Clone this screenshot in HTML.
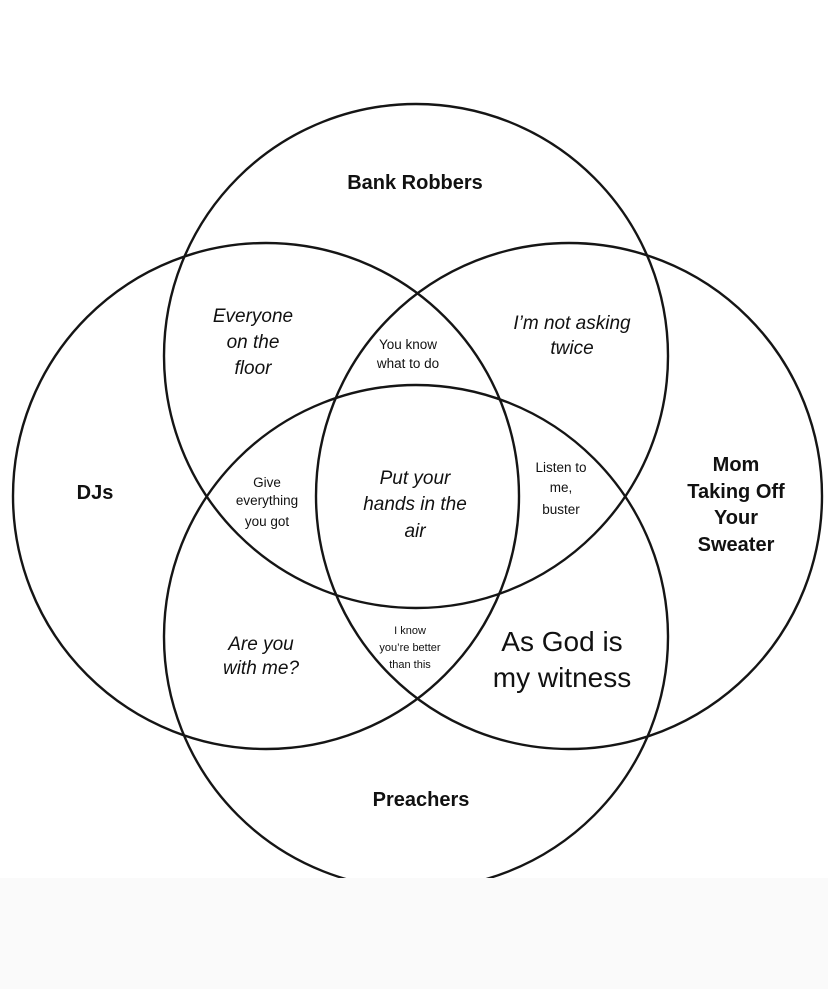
<!DOCTYPE html>
<html><head><meta charset="utf-8"><style>
html,body{margin:0;padding:0;background:#fff;}
svg{display:block}
text{font-family:"Liberation Sans",sans-serif;fill:#111;text-anchor:middle;}
.b{font-weight:bold;font-size:20px;}
.i{font-style:italic;font-size:19px;}
.s{font-size:13.5px;}
</style></head><body>
<svg width="828" height="989" viewBox="0 0 828 989">
<rect width="828" height="989" fill="#fff"/>
<g fill="none" stroke="#151515" stroke-width="2.4">
<circle cx="416" cy="356" r="252"/>
<circle cx="266" cy="496" r="253"/>
<circle cx="569" cy="496" r="253"/>
<circle cx="416" cy="637" r="252"/>
</g>
<rect x="0" y="878" width="828" height="111" fill="#fafafa"/>
<text class="b" x="415" y="189">Bank Robbers</text>
<text class="i" x="253" y="322">Everyone</text>
<text class="i" x="253" y="348">on the</text>
<text class="i" x="253" y="374">floor</text>
<text class="s" x="408" y="349">You know</text>
<text class="s" x="408" y="368">what to do</text>
<text class="i" x="572" y="329">I’m not asking</text>
<text class="i" x="572" y="354">twice</text>
<text class="b" x="95" y="499">DJs</text>
<text class="s" x="267" y="487">Give</text>
<text class="s" x="267" y="505">everything</text>
<text class="s" x="267" y="526">you got</text>
<text class="i" x="415" y="484">Put your</text>
<text class="i" x="415" y="510">hands in the</text>
<text class="i" x="415" y="537">air</text>
<text class="s" x="561" y="472">Listen to</text>
<text class="s" x="561" y="492">me,</text>
<text class="s" x="561" y="514">buster</text>
<text class="b" x="736" y="471">Mom</text>
<text class="b" x="736" y="498">Taking Off</text>
<text class="b" x="736" y="524">Your</text>
<text class="b" x="736" y="551">Sweater</text>
<text class="i" x="261" y="650">Are you</text>
<text class="i" x="261" y="674">with me?</text>
<text x="410" y="634" style="font-size:11px">I know</text>
<text x="410" y="651" style="font-size:11px">you’re better</text>
<text x="410" y="668" style="font-size:11px">than this</text>
<text x="562" y="651" style="font-size:28px">As God is</text>
<text x="562" y="687" style="font-size:28px">my witness</text>
<text class="b" x="421" y="806">Preachers</text>
</svg>
</body></html>
